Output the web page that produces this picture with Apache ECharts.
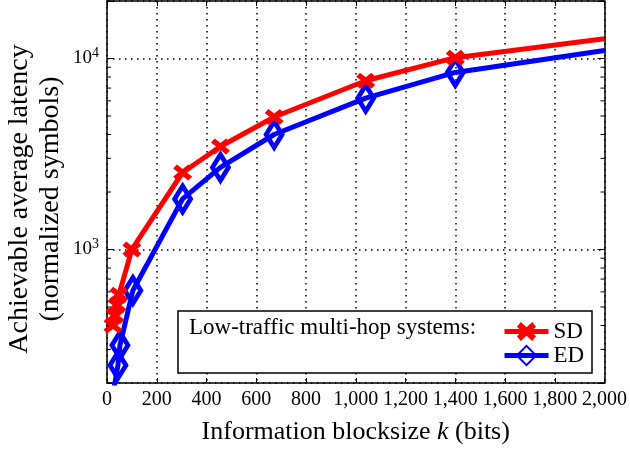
<!DOCTYPE html>
<html>
<head>
<meta charset="utf-8">
<script src="https://cdn.jsdelivr.net/npm/echarts@6/dist/echarts.min.js"></script>
<style>html,body{margin:0;padding:0;background:#fff}#c{width:630px;height:450px}</style>
</head>
<body>
<div id="c"></div>
<script>
// ---- data ----
const kSD = [24, 32, 40, 48, 100, 304, 456, 672, 1040, 1400, 2000];
const latSD = [400, 450, 510, 580, 1000, 2530, 3460, 4940, 7650, 10100, 12700];
const kED = [24, 44, 52, 104, 304, 456, 672, 1040, 1400, 2000];
const latED = [175, 248, 315, 610, 1840, 2690, 4000, 6200, 8450, 11000];
const yMinorTicks = [200, 300, 400, 500, 600, 700, 800, 900, 2000, 3000, 4000, 5000, 6000, 7000, 8000, 9000, 20000];
const seriesNames = ['SD', 'ED'];
const legendTitle = 'Low-traffic multi-hop systems:';
const xTitle = 'Information blocksize {i|k} (bits)';
const yTitle1 = 'Achievable average latency';
const yTitle2 = '(normalized symbols)';

const FONT = 'Liberation Serif';
const xPath = 'path://M0,4 L4,0 L10,4.5 L16,0 L20,4 L14.5,8 L20,12 L16,16 L10,11.5 L4,16 L0,12 L5.5,8 Z';

function mk(k, v) {
  return k.map((x, i) => i === k.length - 1 ? { value: [x, v[i]], symbol: 'none' } : [x, v[i]]);
}
function fmtComma(v) {
  const s = String(Math.round(v));
  return s.replace(/\B(?=(\d{3})+(?!\d))/g, ',');
}

const chart = echarts.init(document.getElementById('c'));
const gridLine = { show: true, lineStyle: { color: '#000', type: [1.5, 4.5], width: 1.5 } };
chart.setOption({
  animation: false,
  grid: { left: 107, right: 23, top: 1, bottom: 63 },
  xAxis: [{
    type: 'value', min: 0, max: 2000, interval: 200,
    axisLine: { show: true, onZero: false, lineStyle: { color: '#000', width: 1.5 } },
    axisTick: { show: true, inside: true, length: 5, lineStyle: { color: '#000' } },
    axisLabel: { color: '#000', fontFamily: FONT, fontSize: 20, margin: 7, formatter: fmtComma },
    splitLine: gridLine,
    name: xTitle, nameLocation: 'middle', nameGap: 36,
    nameTextStyle: { color: '#000', fontFamily: FONT, fontSize: 26, rich: { i: { fontStyle: 'italic', fontFamily: FONT, fontSize: 26 } } }
  }, {
    type: 'value', min: 0, max: 2000, interval: 200, position: 'top',
    axisLine: { show: true, onZero: false, lineStyle: { color: '#000', width: 1.5 } },
    axisTick: { show: true, inside: true, length: 5, lineStyle: { color: '#000' } },
    axisLabel: { show: false }, splitLine: { show: false }
  }],
  yAxis: [{
    type: 'log', logBase: 10, min: 200, max: 20000,
    axisLine: { show: true, onZero: false, lineStyle: { color: '#000', width: 1.5 } },
    axisTick: { show: true, inside: true, length: 7, lineStyle: { color: '#000' } },
    axisLabel: {
      color: '#000', fontFamily: FONT, fontSize: 19, margin: 8,
      formatter: function (v) {
        const e = Math.log10(v);
        if (Math.abs(e - Math.round(e)) < 1e-6 && (Math.round(e) === 3 || Math.round(e) === 4)) return '10{s|' + Math.round(e) + '}';
        return '';
      },
      rich: { s: { fontSize: 14, fontFamily: FONT, verticalAlign: 'top', padding: [0, 0, 10, 0] } }
    },
    splitLine: gridLine
  }, {
    type: 'log', logBase: 10, min: 200, max: 20000, position: 'right',
    axisLine: { show: true, onZero: false, lineStyle: { color: '#000', width: 1.5 } },
    axisTick: { show: true, inside: true, length: 7, lineStyle: { color: '#000' } },
    axisLabel: { show: false }, splitLine: { show: false }
  }],
  legend: {
    orient: 'vertical', left: 497, top: 315, itemWidth: 44, itemHeight: 24, itemGap: 1, z: 20,
    lineStyle: { width: 5 },
    textStyle: { fontFamily: FONT, fontSize: 23, color: '#000', padding: [0, 0, 0, 0] },
    data: seriesNames
  },
  graphic: [
    { type: 'rect', z: 10, shape: { x: 178, y: 311, width: 414, height: 62 }, style: { fill: '#fff', stroke: '#000', lineWidth: 1.5 } },
    { type: 'text', z: 11, x: 189, y: 328, style: { text: legendTitle, font: '23px "Liberation Serif"', fill: '#000', textVerticalAlign: 'middle' } },
    { type: 'text', z: 11, x: 20, y: 199, rotation: Math.PI / 2, style: { text: yTitle1, font: '28px "Liberation Serif"', fill: '#000', textAlign: 'center', textVerticalAlign: 'middle' } },
    { type: 'text', z: 11, x: 51, y: 199, rotation: Math.PI / 2, style: { text: yTitle2, font: '28px "Liberation Serif"', fill: '#000', textAlign: 'center', textVerticalAlign: 'middle' } }
  ],
  series: [{
    name: 'SD', type: 'line', data: mk(kSD, latSD), z: 5,
    lineStyle: { color: '#ff0000', width: 5 },
    itemStyle: { color: '#ff0000' },
    symbol: xPath, symbolSize: [19, 16], showAllSymbol: true
  }, {
    name: 'ED', type: 'line', data: mk(kED, latED), z: 4,
    lineStyle: { color: '#0000ff', width: 5 },
    itemStyle: { color: 'rgba(255,255,255,0)', borderColor: '#0000ff', borderWidth: 5 },
    symbol: 'diamond', symbolSize: [16, 26], showAllSymbol: true
  }, {
    type: 'custom', silent: true, z: 3,
    data: yMinorTicks,
    renderItem: function (params, api) {
      const v = api.value(0);
      const l = api.coord([0, v]);
      const r = api.coord([2000, v]);
      return {
        type: 'group', children: [
          { type: 'line', shape: { x1: l[0], y1: l[1], x2: l[0] + 4, y2: l[1] }, style: { stroke: '#000', lineWidth: 1 } },
          { type: 'line', shape: { x1: r[0], y1: r[1], x2: r[0] - 4, y2: r[1] }, style: { stroke: '#000', lineWidth: 1 } }
        ]
      };
    },
    encode: { x: -1, y: 0 }
  }]
});
</script>
</body>
</html>
